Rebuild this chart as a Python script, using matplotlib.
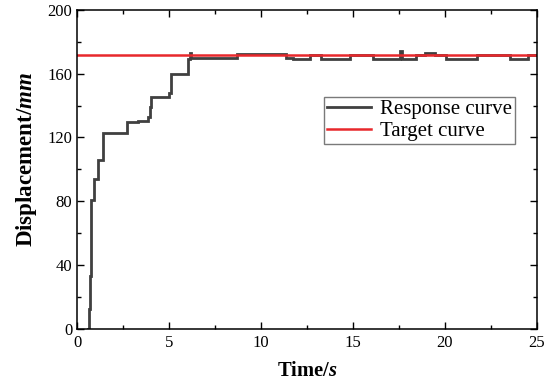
import numpy as np
import matplotlib
matplotlib.use("Agg")
import matplotlib.pyplot as plt
from matplotlib.ticker import MultipleLocator

# ------------------------
# DATA
# ------------------------

resp_t = [0.58, 0.64, 0.70, 0.76, 0.94, 1.13, 1.39, 2.74, 3.33, 3.87, 3.96, 4.04,
          5.01, 5.11, 6.04, 6.12, 6.20, 8.68, 11.37, 11.74, 12.66, 13.24, 14.84,
          16.12, 17.58, 17.66, 18.42, 18.94, 19.49, 20.04, 21.74, 23.57, 24.5, 25.0]
resp_y = [0, 12, 33, 80.5, 94, 106, 122.5, 129.5, 130.5, 133, 139, 145.5,
          148, 160, 169.5, 173, 170, 172.3, 170, 169.3, 171.5, 169.3, 171.5,
          169.3, 174, 169.3, 172, 172.8, 172, 169.3, 171.5, 169.3, 171.5, 171.5]

target_t = [0, 25]
target_y = [171.5, 171.5]

x_ticks = [0, 5, 10, 15, 20, 25]
y_ticks = [0, 40, 80, 120, 160, 200]

# ------------------------
# STYLE
# ------------------------

plt.rcParams['font.family'] = ['Liberation Serif', 'DejaVu Serif']
plt.rcParams['mathtext.fontset'] = 'custom'
plt.rcParams['mathtext.rm'] = 'Liberation Serif'
plt.rcParams['mathtext.it'] = 'Liberation Serif:italic'
plt.rcParams['mathtext.bf'] = 'Liberation Serif:bold'
plt.rcParams['mathtext.bfit'] = 'Liberation Serif:bold:italic'

fig = plt.figure(figsize=(5.5, 3.82), dpi=100)
ax = fig.add_axes([0.14, 0.14, 0.836, 0.834])

ax.plot(resp_t, resp_y, drawstyle='steps-post', color='#404040',
        linewidth=2.0, label='Response curve', solid_joinstyle='miter')
ax.plot(target_t, target_y, color='#e8282c', linewidth=1.8, label='Target curve')

ax.set_xlim(0, 25)
ax.set_ylim(0, 200)
ax.set_xticks(x_ticks)
ax.set_yticks(y_ticks)
ax.xaxis.set_minor_locator(MultipleLocator(2.5))
ax.yaxis.set_minor_locator(MultipleLocator(20))

ax.tick_params(which='both', direction='in', top=True, right=True,
               labeltop=False, labelright=False, width=1.0, labelsize=12)
ax.tick_params(which='major', length=5)
ax.tick_params(which='minor', length=3)
ax.tick_params(axis='x', pad=5)
for s in ax.spines.values():
    s.set_linewidth(1.1)

ax.set_xlabel('Time/$\\mathbfit{s}$', fontsize=14.8, fontweight='bold', labelpad=7)
ax.set_ylabel('Displacement/$\\mathbfit{mm}$', fontsize=16.5, fontweight='bold')
ax.yaxis.set_label_coords(-0.082, 0.53)

# legend box
leg = ax.legend(loc='upper left', bbox_to_anchor=(0.589, 0.747),
                bbox_transform=fig.transFigure, borderaxespad=0,
                fontsize=15, fancybox=False, framealpha=1,
                edgecolor='#7a7a7a', handlelength=2.1, handletextpad=0.45,
                borderpad=0.15, labelspacing=0.1)
leg.get_frame().set_linewidth(1.0)

fig.savefig('out.png', dpi=100)
